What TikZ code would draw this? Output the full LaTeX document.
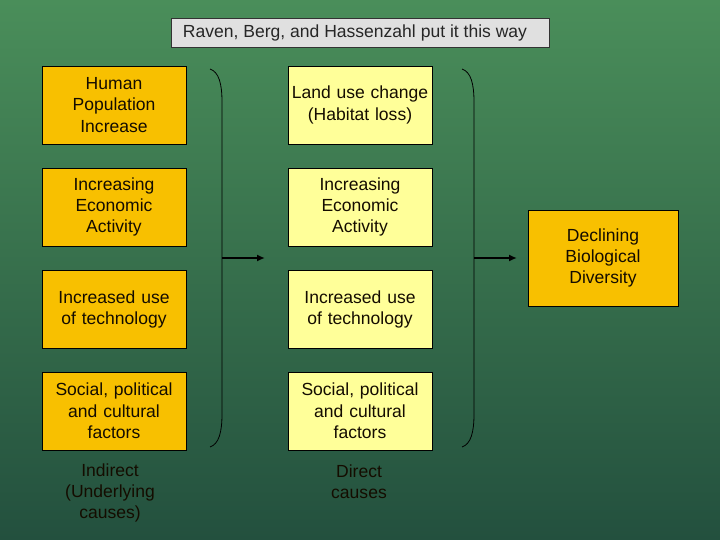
\documentclass[tikz,border=0pt]{standalone}
\usepackage{fontspec}
\setmainfont{Liberation Sans}
\usetikzlibrary{arrows.meta}

\definecolor{bgtop}{RGB}{74,142,90}
\definecolor{bgbot}{RGB}{35,80,62}
\definecolor{causeorange}{RGB}{248,192,0}
\definecolor{causeyellow}{RGB}{255,255,153}
\definecolor{titlegray}{RGB}{224,224,224}
\definecolor{inktext}{RGB}{20,12,0}

\begin{document}
\begin{tikzpicture}[x=1bp, y=-1bp,
                    font=\fontsize{17.6}{21.5}\selectfont,
                    causebox/.style={draw=black, line width=0.8bp, minimum width=144bp, minimum height=78bp,
                                     text width=142bp, align=center, inner sep=1bp, text=inktext},
                    indirect/.style={causebox, fill=causeorange},
                    direct/.style={causebox, fill=causeyellow},
                    caption/.style={align=center, text=inktext},
                    brace/.style={draw=black, line width=0.8bp},
                    flow/.style={draw=black, line width=1.6bp, -{Latex[length=8bp,width=7bp]}}
]
% background
\shade[top color=bgtop, bottom color=bgbot] (0,0) rectangle (720,540);
\useasboundingbox (0,0) rectangle (720,540);

\node [draw=black!80, fill=titlegray, minimum width=378bp, minimum height=29bp, text=black!85] at (360,32.5) (title) {\hspace*{-10bp}Raven, Berg, and Hassenzahl put it this way};
%
\node [indirect] at (114,105) (pop) {Human\\Population\\Increase};
\node [indirect] at (114,207) (econ) {Increasing\\Economic\\Activity};
\node [indirect] at (114,309.5) (tech) {Increased use\\of technology};
\node [indirect] at (114,411) (social) {Social, political\\and cultural\\factors};
%
\node [direct] at (360,105) (land) {Land use change\\(Habitat loss)};
\node [direct] at (360,207) (econ2) {Increasing\\Economic\\Activity};
\node [direct] at (360,309.5) (tech2) {Increased use\\of technology};
\node [direct] at (360,411) (social2) {Social, political\\and cultural\\factors};
%
\node [indirect, minimum width=150bp, minimum height=96bp, text width=148bp] at (603,258) (decline) {Declining\\Biological\\Diversity};
%
\node [caption] at (110,493) (indcap) {Indirect\\(Underlying\\causes)};
\node [caption] at (359,482) (dircap) {Direct\\causes};
%
\coordinate (lb) at (222,258);
\coordinate (la) at (265,258);
\coordinate (rb) at (474,258);
\coordinate (ra) at (517,258);
%
\draw [brace] (210,69) .. controls (219,72) and (222,84) .. (222,102) -- (222,414)
              .. controls (222,432) and (219,444) .. (210,447);
\draw [brace] (462,69) .. controls (471,72) and (474,84) .. (474,102) -- (474,414)
              .. controls (474,432) and (471,444) .. (462,447);
\draw [flow] (lb) -- (la);
\draw [flow] (rb) -- (ra);
\end{tikzpicture}
\end{document}
